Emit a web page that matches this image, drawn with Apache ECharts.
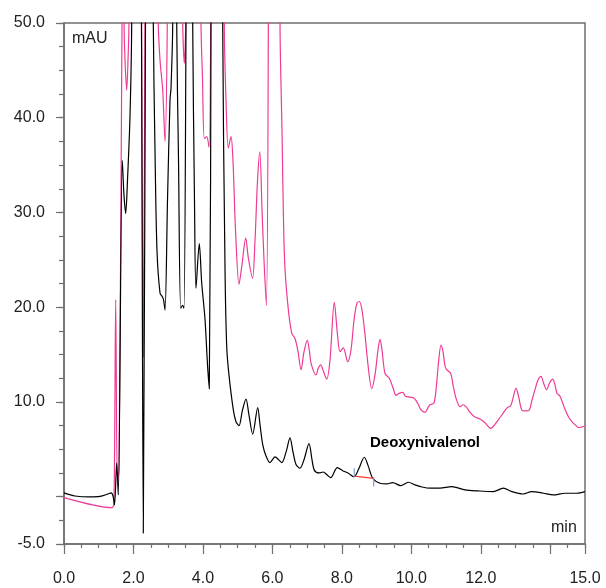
<!DOCTYPE html>
<html>
<head>
<meta charset="utf-8">
<script src="https://cdn.jsdelivr.net/npm/echarts@6/dist/echarts.min.js"></script>
<style>
html,body{margin:0;padding:0;background:#fff;}
#chart{width:606px;height:588px;}
</style>
</head>
<body>
<div id="chart"></div>
<script>
// ---- data (time in min, absorbance in mAU) ----
var xLabelValues = [0, 2, 4, 6, 8, 10, 12, 15];
var xMajorTicks = [0, 2, 4, 6, 8, 10, 12, 14, 15];
var yLabelValues = [-5, 10, 20, 30, 40, 50];
var yMajorTicks = [-5, 0, 10, 20, 30, 40, 50];

var blackTrace = [
[0,0.39],[0.317,0.07],[0.749,-0.03],[1.036,0.02],[1.267,0.28],[1.353,0.39],[1.411,0.07],[1.454,-0.88],
[1.517,3.53],[1.563,0.18],[1.678,35.5],[1.727,31.8],[1.776,29.9],[1.828,33.4],[1.900,40.1],[1.949,50],
[2.087,150],[2.231,50],[2.283,-3.86],[2.346,50],[2.462,150],[2.571,50],[2.620,36.6],[2.677,26.0],
[2.764,21.5],[2.830,21.1],[2.865,20.8],[2.908,19.7],[2.980,31.3],[3.052,41.9],[3.081,43.1],[3.130,50],
[3.187,120],[3.245,50],[3.297,35.5],[3.360,19.9],[3.418,20.2],[3.455,19.9],[3.513,50],[3.608,120],
[3.705,50],[3.757,31.3],[3.800,22.0],[3.895,26.7],[3.964,22.6],[4.060,18.7],[4.132,13.9],[4.183,11.4],
[4.232,50],[4.391,250],[4.569,50],[4.635,24.3],[4.685,15.8],[4.751,12.8],[4.875,9.15],[4.952,7.9],
[5.039,7.5],[5.139,9.15],[5.240,10.3],[5.326,8.6],[5.433,6.6],[5.577,9.4],[5.643,7.6],[5.721,5.5],
[5.816,4.3],[5.931,3.6],[6.075,4.2],[6.268,3.6],[6.392,4.7],[6.507,6.2],[6.593,4.7],[6.680,3.4],
[6.795,3.0],[6.910,3.9],[7.054,5.6],[7.140,3.9],[7.206,2.8],[7.342,2.5],[7.465,2.6],[7.572,2.3],
[7.679,2.0],[7.869,3.06],[8.024,2.74],[8.177,2.5],[8.350,2.1],[8.494,3.0],[8.646,4.16],[8.753,3.3],
[8.888,1.94],[9.098,1.41],[9.291,1.34],[9.464,1.48],[9.694,1.16],[9.913,1.52],[10.106,1.24],[10.307,1.02],
[10.538,0.89],[10.826,0.89],[11.162,1.06],[11.545,0.71],[11.928,0.60],[12.360,0.53],[12.648,0.89],
[12.890,0.53],[13.224,0.28],[13.466,0.53],[13.800,0.36],[14.088,0.18],[14.424,0.36],[14.761,0.36],[15.0,0.53]
];

var pinkTrace = [
[0,-0.1],[1.382,-1.16],[1.440,-0.35],[1.489,20.8],[1.535,1.76],[1.584,2.8],[1.670,50],[1.699,65],
[1.728,50],[1.756,46.1],[1.805,42.9],[1.843,46.1],[1.871,50],[2.059,200],[2.231,50],[2.283,14.75],
[2.332,50],[2.519,200],[2.715,50],[2.764,46.1],[2.842,42.9],[2.908,37.5],[2.974,50],[3.196,150],
[3.418,50],[3.464,45.75],[3.504,50],[3.728,150],[3.944,50],[3.988,44.0],[4.039,37.8],[4.108,38.0],
[4.175,36.9],[4.224,50],[4.420,250],[4.615,50],[4.664,41.9],[4.730,36.8],[4.808,38.0],[4.865,35.5],
[4.937,28.2],[5.039,22.4],[5.125,24.5],[5.232,27.3],[5.307,25.2],[5.428,23.05],[5.500,27.1],[5.572,33.4],
[5.638,36.4],[5.701,30.3],[5.758,25.0],[5.825,20.2],[5.883,50],[6.046,300],[6.219,50],[6.276,38.7],
[6.343,25.7],[6.430,20.8],[6.556,17.25],[6.651,16.7],[6.738,15.3],[6.824,13.4],[6.910,15.3],[7.005,16.5],
[7.068,15.3],[7.111,14.1],[7.255,12.85],[7.327,13.6],[7.391,13.9],[7.471,13.2],[7.563,12.4],[7.658,14.4],
[7.782,20.5],[7.874,17.1],[7.946,15.3],[8.041,15.7],[8.168,14.25],[8.263,15.5],[8.350,18.65],[8.436,20.45],
[8.502,20.6],[8.580,19.7],[8.666,17.1],[8.753,13.9],[8.859,11.4],[8.954,12.85],[9.040,15.5],[9.098,16.6],
[9.155,15.5],[9.242,13.0],[9.366,12.5],[9.472,11.5],[9.559,10.7],[9.645,10.9],[9.752,11.0],[9.832,10.6],
[9.962,10.5],[10.077,10.4],[10.192,9.8],[10.279,9.15],[10.394,8.9],[10.480,9.4],[10.538,9.7],[10.653,9.9],
[10.725,11.8],[10.783,14.2],[10.854,16.0],[10.912,15.3],[10.970,13.8],[11.018,13.4],[11.134,13.0],[11.200,11.8],
[11.286,10.4],[11.401,9.5],[11.488,9.7],[11.574,9.5],[11.689,8.9],[11.833,8.4],[11.977,8.2],[12.121,7.8],
[12.285,7.2],[12.380,7.5],[12.504,8.1],[12.640,8.8],[12.763,9.4],[12.861,9.6],[12.927,10.4],[13.014,11.45],
[13.086,10.6],[13.178,9.15],[13.273,9.05],[13.397,9.15],[13.474,10.2],[13.560,11.3],[13.647,12.3],[13.733,12.7],
[13.805,12.0],[13.897,11.3],[13.978,12.0],[14.070,12.4],[14.136,11.8],[14.194,10.9],[14.280,10.6],[14.395,9.5],
[14.519,8.45],[14.626,7.9],[14.712,7.6],[14.807,7.3],[15.0,7.46]
];

var peakName = 'Deoxynivalenol';
var peakBaseline = [[8.357, 2.17], [8.917, 1.93]];
var peakStartMark = [[8.357, 3.0], [8.357, 2.05]];
var peakEndMark = [[8.917, 2.05], [8.917, 1.06]];
var yUnit = 'mAU';
var xUnit = 'min';

// ---- helpers ----
function steps(a, b, s) { var r = []; for (var v = a; v <= b + 1e-9; v += s) r.push(Math.round(v * 100) / 100); return r; }
var xMinorTicks = steps(0, 15, 0.5);
var yMinorTicks = steps(-5, 50, 2.5);

var axisCol = '#6f6f6f';
var labelStyle = { color: '#222', fontSize: 16, fontFamily: 'Liberation Sans, Arial, sans-serif' };

var chart = echarts.init(document.getElementById('chart'), null, { renderer: 'canvas' });
chart.setOption({
  animation: false,
  backgroundColor: '#fff',
  grid: { left: 64, right: 21, top: 23, bottom: 44, show: true, borderColor: axisCol, borderWidth: 1.5, backgroundColor: 'transparent' },
  xAxis: [
    { type: 'value', min: 0, max: 15, position: 'bottom',
      axisLine: { show: true, onZero: false, lineStyle: { color: axisCol, width: 1.5 } },
      splitLine: { show: false },
      axisTick: { show: true, customValues: xMajorTicks, length: 10, lineStyle: { color: axisCol, width: 1.2 } },
      axisLabel: Object.assign({ customValues: xLabelValues, margin: 27, formatter: function (v) { return v.toFixed(1); } }, labelStyle)
    },
    { type: 'value', min: 0, max: 15, position: 'bottom',
      axisLine: { show: false, onZero: false }, splitLine: { show: false },
      axisTick: { show: true, customValues: xMinorTicks, length: 4, lineStyle: { color: axisCol, width: 1.2 } },
      axisLabel: { show: false }
    }
  ],
  yAxis: [
    { type: 'value', min: -5, max: 50, position: 'left',
      axisLine: { show: true, onZero: false, lineStyle: { color: axisCol, width: 1.5 } },
      splitLine: { show: false },
      axisTick: { show: true, customValues: yMajorTicks, length: 8, lineStyle: { color: axisCol, width: 1.2 } },
      axisLabel: Object.assign({ customValues: yLabelValues, margin: 19, formatter: function (v) { return v.toFixed(1); } }, labelStyle)
    },
    { type: 'value', min: -5, max: 50, position: 'left',
      axisLine: { show: false, onZero: false }, splitLine: { show: false },
      axisTick: { show: true, customValues: yMinorTicks, length: 5, lineStyle: { color: axisCol, width: 1.2 } },
      axisLabel: { show: false }
    }
  ],
  series: [
    { name: 'sample spiked', type: 'line', data: pinkTrace, showSymbol: false, clip: true, smooth: 0.3,
      lineStyle: { color: '#ee3b95', width: 1.2 }, z: 2 },
    { name: 'standard', type: 'line', data: blackTrace, showSymbol: false, clip: true, smooth: 0.3,
      lineStyle: { color: '#000', width: 1.2 }, z: 3 },
    { type: 'line', data: peakBaseline, showSymbol: false, lineStyle: { color: '#ff3b30', width: 1.2 }, z: 4 },
    { type: 'line', data: peakStartMark, showSymbol: false, lineStyle: { color: '#7f9bd6', width: 1.2 }, z: 4 },
    { type: 'line', data: peakEndMark, showSymbol: false, lineStyle: { color: '#7f9bd6', width: 1.2 }, z: 4 }
  ],
  graphic: [
    { type: 'text', left: 72, top: 31, style: { text: yUnit, fill: '#222', font: '16px Liberation Sans, Arial, sans-serif' } },
    { type: 'text', left: 551, top: 520, style: { text: xUnit, fill: '#222', font: '16px Liberation Sans, Arial, sans-serif' } },
    { type: 'text', left: 370, top: 435, style: { text: peakName, fill: '#000', font: 'bold 15px Liberation Sans, Arial, sans-serif' } }
  ]
});
</script>
</body>
</html>
